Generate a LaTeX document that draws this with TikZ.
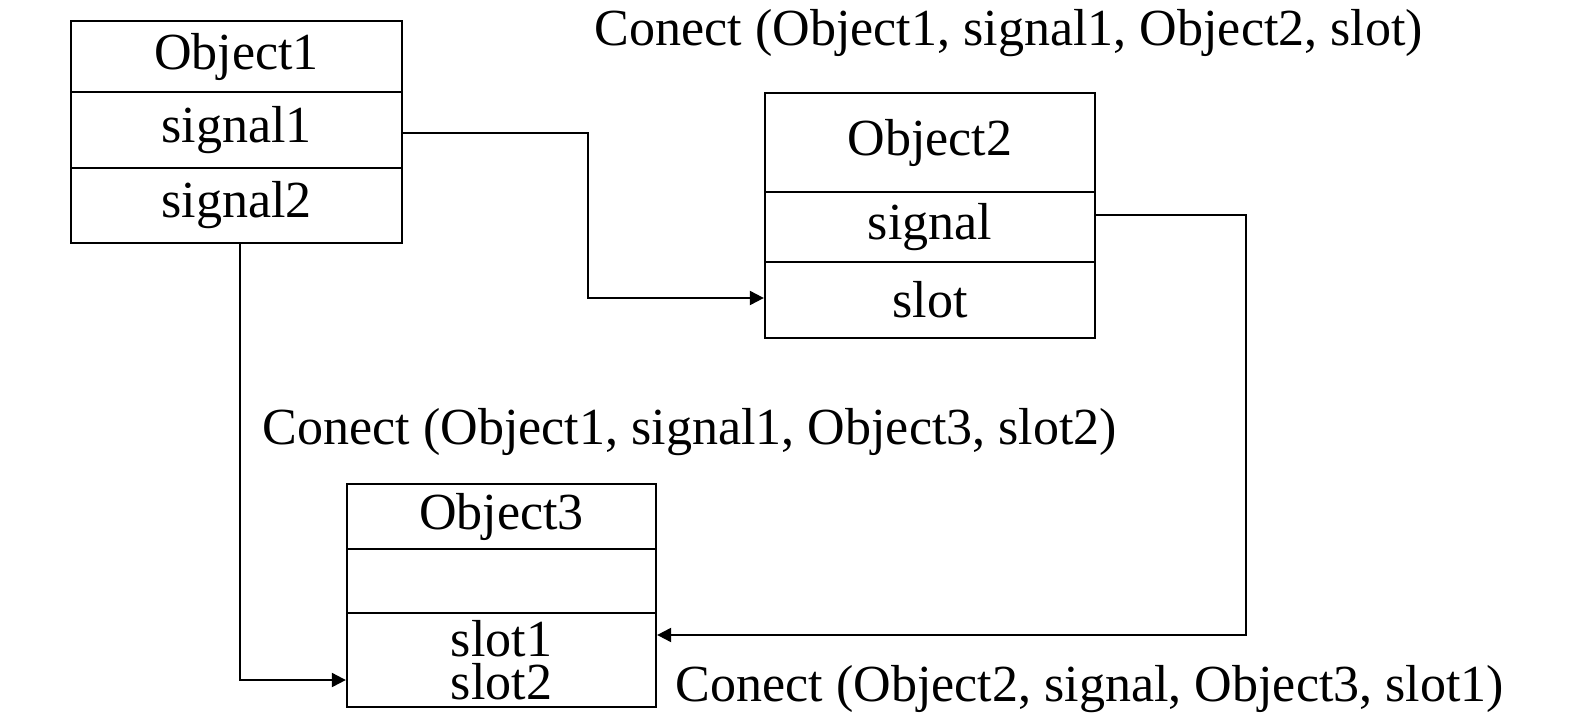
\documentclass[tikz,border=0pt]{standalone}
\usepackage{fontspec}
\setmainfont{Liberation Serif}
\usepackage{tikz}
\usetikzlibrary{arrows.meta,positioning}

\begin{document}
\begin{tikzpicture}[x=0.01cm,y=-0.01cm,
        cell/.style={draw,line width=0.6pt,inner sep=0pt,
                     font=\fontsize{14.8}{12.2}\selectfont,align=center},
        arr/.style={-{Triangle[length=1.4mm,width=1.4mm]},line width=0.6pt},
        conn/.style={font=\fontsize{14.8}{17}\selectfont,inner sep=0pt}
      ]
        \useasboundingbox (0,0) rectangle (1575,724);
        % Object1
        \node[cell,minimum width=3.31cm,minimum height=0.71cm] (o1name) at (236.5,56.5) {Object1};
        \node[cell,minimum width=3.31cm,minimum height=0.76cm] (o1sigA) at (236.5,130) {signal1};
        \node[cell,minimum width=3.31cm,minimum height=0.75cm] (o1sigB) at (236.5,205.5) {signal2};
        % Object2
        \node[cell,minimum width=3.30cm,minimum height=0.99cm] (o2name) at (930,142.5) {Object2};
        \node[cell,minimum width=3.30cm,minimum height=0.70cm] (o2sig) at (930,227) {signal};
        \node[cell,minimum width=3.30cm,minimum height=0.76cm] (o2slot) at (930,300) {slot};
        % Object3
        \node[cell,minimum width=3.09cm,minimum height=0.65cm] (o3name) at (501.5,516.5) {Object3};
        \node[cell,minimum width=3.09cm,minimum height=0.64cm] (o3sig) at (501.5,581) {};
        \node[cell,minimum width=3.09cm,minimum height=0.94cm] (o3slots) at (501.5,660) {slot1\\slot2};
        % connections
        \draw[arr] ([yshift=-0.03cm]o1sigA.east) -- ++(185,0) |- ([yshift=0.02cm]o2slot.west);
        \draw[arr] ([xshift=0.035cm]o1sigB.south) |- ([yshift=-0.2cm]o3slots.west);
        \draw[arr] ([yshift=0.12cm]o2sig.east) -- ++(150,0) |- ([yshift=0.25cm]o3slots.east);
        % labels
        \node[conn] (lblA) at (1009,33) {Conect (Object1, signal1, Object2, slot)};
        \node[conn] (lblB) at (690,432) {Conect (Object1, signal1, Object3, slot2)};
        \node[conn] (lblC) at (1090,689) {Conect (Object2, signal, Object3, slot1)};
      \end{tikzpicture}
\end{document}
